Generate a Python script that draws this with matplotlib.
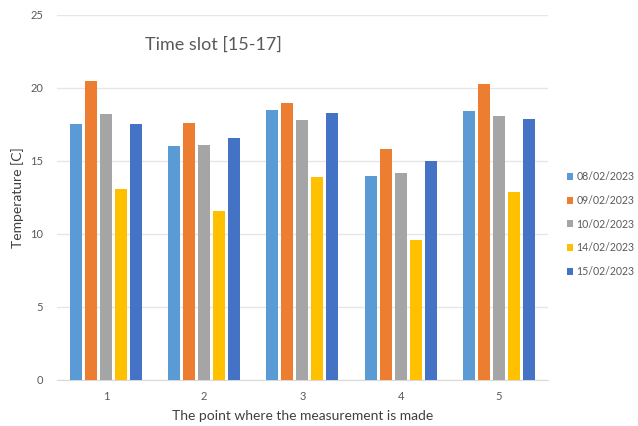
import matplotlib.pyplot as plt
import numpy as np

plt.rcParams['font.family'] = ['Lato', 'DejaVu Sans']

points = ["1", "2", "3", "4", "5"]
dates = ["08/02/2023", "09/02/2023", "10/02/2023", "14/02/2023", "15/02/2023"]
temp_0802 = [17.5, 16.0, 18.5, 14.0, 18.4]
temp_0902 = [20.5, 17.6, 19.0, 15.8, 20.3]
temp_1002 = [18.2, 16.1, 17.8, 14.2, 18.1]
temp_1402 = [13.1, 11.6, 13.9, 9.6, 12.9]
temp_1502 = [17.5, 16.6, 18.3, 15.0, 17.9]
series = [temp_0802, temp_0902, temp_1002, temp_1402, temp_1502]
colors = ["#5B9BD5", "#ED7D31", "#A5A5A5", "#FFC000", "#4472C4"]

fig = plt.figure(figsize=(6.38, 4.26), dpi=100)
ax = fig.add_axes([0.089, 0.108, 0.77, 0.857])

x = np.arange(1, len(points) + 1)
pitch = 0.153
width = 0.122
handles = []
for i, (vals, col, lab) in enumerate(zip(series, colors, dates)):
    offs = (i - 2) * pitch
    h = ax.bar(x + offs, vals, width=width, color=col, label=lab, zorder=3)
    handles.append(h)

ax.set_xlim(0.5, 5.5)
ax.set_ylim(0, 25)
ax.set_yticks([0, 5, 10, 15, 20, 25])
ax.set_xticks(x)
ax.set_xticklabels(points)
ax.grid(axis='y', color='#E6E6E6', linewidth=1, zorder=0)
for s in ['top', 'right', 'left']:
    ax.spines[s].set_visible(False)
ax.spines['bottom'].set_color('#D9D9D9')
ax.tick_params(axis='both', length=0, colors='#595959', labelsize=8)
ax.tick_params(axis='x', pad=8)
ax.tick_params(axis='y', pad=10)

ax.set_xlabel("The point where the measurement is made", fontsize=10, color='#404040', labelpad=6)
ax.set_ylabel("Temperature [C]", fontsize=10, color='#404040', labelpad=4)
ax.text(0.227, 0.894, "Time slot [15-17]", transform=fig.transFigure,
        fontsize=13, color='#595959', ha='left', va='center')

fig.legend(handles=handles, labels=dates, loc='upper left',
           bbox_to_anchor=(0.882, 0.608), frameon=False,
           fontsize=7.6, labelcolor='#595959',
           handlelength=0.6, handleheight=0.6, handletextpad=0.3,
           labelspacing=1.2, borderaxespad=0)

fig.savefig("out.png", dpi=100)
